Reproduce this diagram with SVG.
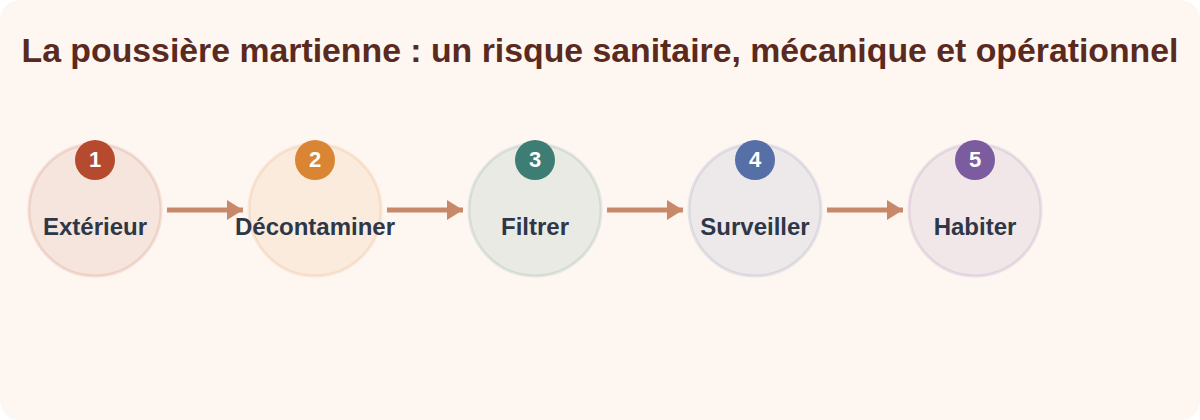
<svg xmlns="http://www.w3.org/2000/svg" width="1200" height="420" viewBox="0 0 1200 420">
<style>
.title{font-family:"Liberation Sans",Arial,sans-serif;font-weight:bold;font-size:33.8px;fill:#5A2A1E}
.lbl{font-family:"Liberation Sans",Arial,sans-serif;font-weight:bold;font-size:24px;fill:#2D3748}
.num{font-family:"Liberation Sans",Arial,sans-serif;font-weight:bold;font-size:22px;fill:#FFFFFF}
.ring{stroke-width:3}
.conn{stroke:#C8896A;stroke-width:5;fill:none}
</style>
<defs>
<marker id="ah" viewBox="0 0 16 20" refX="16" refY="10" markerWidth="16" markerHeight="20" markerUnits="userSpaceOnUse" orient="auto">
<path d="M0,0 L16,10 L0,20 Z" fill="#C8896A"/>
</marker>
</defs>
<rect x="0" y="0" width="1200" height="420" rx="20" ry="20" fill="#FEF6F1"/>
<text class="title" x="600" y="62" text-anchor="middle">La poussière martienne : un risque sanitaire, mécanique et opérationnel</text>
<g id="connectors">
<line class="conn" x1="167" y1="210" x2="243" y2="210" marker-end="url(#ah)"/>
<line class="conn" x1="387" y1="210" x2="463" y2="210" marker-end="url(#ah)"/>
<line class="conn" x1="607" y1="210" x2="683" y2="210" marker-end="url(#ah)"/>
<line class="conn" x1="827" y1="210" x2="903" y2="210" marker-end="url(#ah)"/>
</g>
<g id="node1">
<circle class="ring" cx="95" cy="210" r="66" fill="#B54A2E" fill-opacity="0.1" stroke="#B54A2E" stroke-opacity="0.14"/>
<circle cx="95" cy="160" r="20" fill="#B54A2E"/>
<text class="num" x="95" y="167" text-anchor="middle">1</text>
<text class="lbl" x="95" y="235" text-anchor="middle">Extérieur</text>
</g>
<g id="node2">
<circle class="ring" cx="315" cy="210" r="66" fill="#D98533" fill-opacity="0.1" stroke="#D98533" stroke-opacity="0.14"/>
<circle cx="315" cy="160" r="20" fill="#D98533"/>
<text class="num" x="315" y="167" text-anchor="middle">2</text>
<text class="lbl" x="315" y="235" text-anchor="middle">Décontaminer</text>
</g>
<g id="node3">
<circle class="ring" cx="535" cy="210" r="66" fill="#3D7D74" fill-opacity="0.1" stroke="#3D7D74" stroke-opacity="0.14"/>
<circle cx="535" cy="160" r="20" fill="#3D7D74"/>
<text class="num" x="535" y="167" text-anchor="middle">3</text>
<text class="lbl" x="535" y="235" text-anchor="middle">Filtrer</text>
</g>
<g id="node4">
<circle class="ring" cx="755" cy="210" r="66" fill="#566FA6" fill-opacity="0.1" stroke="#566FA6" stroke-opacity="0.14"/>
<circle cx="755" cy="160" r="20" fill="#566FA6"/>
<text class="num" x="755" y="167" text-anchor="middle">4</text>
<text class="lbl" x="755" y="235" text-anchor="middle">Surveiller</text>
</g>
<g id="node5">
<circle class="ring" cx="975" cy="210" r="66" fill="#7B5C9E" fill-opacity="0.1" stroke="#7B5C9E" stroke-opacity="0.14"/>
<circle cx="975" cy="160" r="20" fill="#7B5C9E"/>
<text class="num" x="975" y="167" text-anchor="middle">5</text>
<text class="lbl" x="975" y="235" text-anchor="middle">Habiter</text>
</g>
</svg>
